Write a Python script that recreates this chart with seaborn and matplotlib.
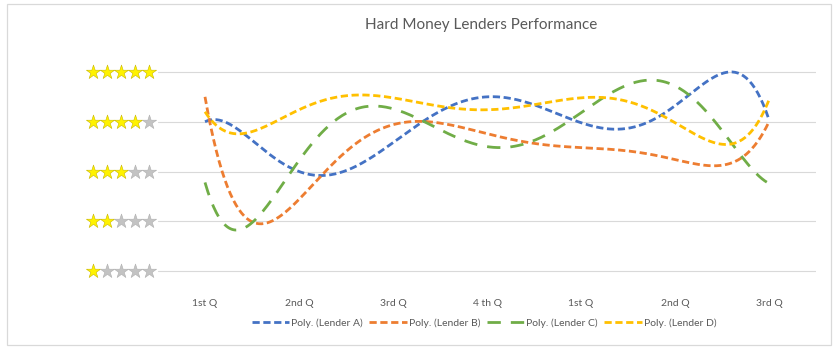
import numpy as np
import pandas as pd
import matplotlib
matplotlib.use("Agg")
import matplotlib.pyplot as plt
from matplotlib.patches import Rectangle
import seaborn as sns

# ---- data ----
quarters = ["1st Q", "2nd Q", "3rd Q", "4 th Q", "1st Q", "2nd Q", "3rd Q"]
lender_a = [4.00, 3.00, 3.58, 4.50, 3.98, 4.32, 4.04]
lender_b = [4.50, 2.44, 3.94, 3.76, 3.48, 3.24, 4.00]
lender_c = [2.78, 3.22, 4.26, 3.50, 4.18, 4.72, 2.76]
lender_d = [4.20, 4.24, 4.48, 4.24, 4.48, 3.98, 4.44]
series_names = ["Poly. (Lender A)", "Poly. (Lender B)", "Poly. (Lender C)", "Poly. (Lender D)"]
star_ratings = [1, 2, 3, 4, 5]
title = "Hard Money Lenders Performance"

colors = ["#4472C4", "#ED7D31", "#70AD47", "#FFC000"]
dash_styles = [(2.6, 1.3), (2.6, 1.3), (4.8, 3.6), (2.6, 1.3)]

sns.set_theme(style="white")
plt.rcParams["font.family"] = ["Lato", "DejaVu Sans"]

W, H = 838, 351
fig = plt.figure(figsize=(W / 100, H / 100), dpi=100)
fig.patch.set_facecolor("white")

# chart border
fig.add_artist(Rectangle((7 / W, 1 - 345 / H), (831 - 7) / W, (345 - 4) / H,
                         transform=fig.transFigure, fill=False,
                         edgecolor="#D9D9D9", linewidth=0.9))

left, right, top, bottom = 158, 816, 60, 285
ax = fig.add_axes([left / W, 1 - bottom / H, (right - left) / W, (bottom - top) / H])

# polynomial (order 6) trendlines through each series, as Excel draws them
xs = np.arange(len(quarters))
dense = np.linspace(0, len(quarters) - 1, 400)
rows = []
for name, vals in zip(series_names, [lender_a, lender_b, lender_c, lender_d]):
    coef = np.polyfit(xs, vals, 6)
    yv = np.polyval(coef, dense)
    rows.append(pd.DataFrame({"x": dense, "y": yv, "series": name}))
df = pd.concat(rows, ignore_index=True)

sns.lineplot(data=df, x="x", y="y", hue="series", style="series",
             palette=colors, dashes=dash_styles, linewidth=2.0,
             ax=ax, legend=True, sort=False)

ax.set_xlim(-0.5, len(quarters) - 0.5)
ax.set_ylim(0.72, 5.24)
ax.set_xticks(xs)
ax.set_xticklabels(quarters, fontsize=7.5, color="#595959")
ax.set_yticks(star_ratings)
ax.set_yticklabels([])
ax.tick_params(axis="x", length=0, pad=10)
ax.tick_params(axis="y", length=0)
ax.set_xlabel("")
ax.set_ylabel("")
ax.grid(axis="y", color="#D9D9D9", linewidth=0.8)
ax.grid(axis="x", visible=False)
for s in ax.spines.values():
    s.set_visible(False)

# star-rating tick labels
trans = ax.get_yaxis_transform()
star_px = [93, 107, 121, 135, 149]
for r in star_ratings:
    for i, px in enumerate(star_px):
        filled = i < r
        ax.scatter((px - left) / (right - left), r, marker="*", s=115,
                   color="#FFF200" if filled else "#C3C3C3",
                   edgecolor="#C9B800" if filled else "#B0B0B0",
                   linewidth=0.4, transform=trans, clip_on=False, zorder=5)

fig.text(481 / W, 1 - 25 / H, title, ha="center", va="center",
         fontsize=11, color="#595959")

handles, labels = ax.get_legend_handles_labels()
ax.get_legend().remove()
fig.legend(handles, labels, loc="center", bbox_to_anchor=(484 / W, 1 - 323 / H),
           ncol=4, frameon=False, fontsize=7.5, handlelength=3.6,
           handletextpad=0.2, columnspacing=0.6, labelcolor="#595959")

fig.savefig("out.png", dpi=100, facecolor="white")
